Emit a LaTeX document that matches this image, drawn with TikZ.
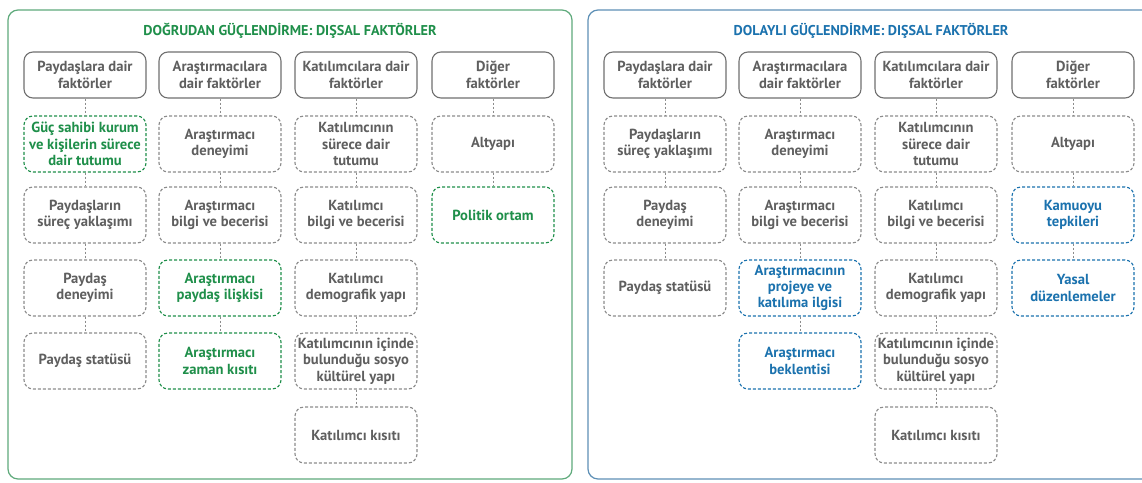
\documentclass[tikz,border=0pt]{standalone}
\usepackage{fontspec}
\setmainfont{PT Sans}
\definecolor{txtc}{HTML}{5F5F5F}
\definecolor{hdrc}{HTML}{707070}
\definecolor{dashc}{HTML}{8C8C8C}
\definecolor{greenc}{HTML}{1F8F4A}
\definecolor{greenb}{HTML}{5FAA7C}
\definecolor{bluec}{HTML}{1B72AE}
\definecolor{blueb}{HTML}{5E90B6}
\tikzset{
  panel/.style={line width=1.2pt, rounded corners=10pt, fill=white},
  ttl/.style={font=\bfseries\fontsize{14.2}{16}\selectfont, inner sep=0pt},
  hdr/.style={draw=hdrc, line width=1.1pt, rounded corners=9pt, minimum width=122pt, minimum height=46pt, align=center, text=txtc, inner sep=1pt, font=\bfseries\fontsize{14.6}{16.5}\selectfont},
  fac/.style={draw=dashc, line width=1.1pt, dash pattern=on 3pt off 2pt, rounded corners=9pt, minimum width=122pt, minimum height=56pt, align=center, text=txtc, inner sep=1pt, font=\bfseries\fontsize{14.6}{16.3}\selectfont},
  gfac/.style={fac, draw=greenc, text=greenc},
  bfac/.style={fac, draw=bluec, text=bluec},
  link/.style={draw=dashc, line width=1pt, dash pattern=on 2pt off 2pt}
}
\begin{document}
\begin{tikzpicture}[x=1pt,y=-1pt]
\useasboundingbox (0,0) rectangle (1142,482);
\fill[white] (0,0) rectangle (1142,482);
% panels
\draw[panel, draw=greenb] (8,10) rectangle (572,479);
\begin{scope}
\clip (0,0) rectangle (1142,482);
\draw[panel, draw=blueb] (588,10) rectangle (1154,479);
\end{scope}
\node[ttl, text=greenc] (t1) at (290,31) {DOĞRUDAN GÜÇLENDİRME: DIŞSAL FAKTÖRLER};
\node[ttl, text=bluec] (t2) at (871,31) {DOLAYLI GÜÇLENDİRME: DIŞSAL FAKTÖRLER};

% ===== Left panel =====
\node[hdr] (a1) at (85,75) {Paydaşlara dair\\faktörler};
\node[hdr] (a2) at (220,75) {Araştırmacılara\\dair faktörler};
\node[hdr] (a3) at (356,75) {Katılımcılara dair\\faktörler};
\node[hdr] (a4) at (493,75) {Diğer\\faktörler};

\node[gfac] (a11) at (85,144) {Güç sahibi kurum\\ve kişilerin sürece\\dair tutumu};
\node[fac] (a12) at (85,215) {Paydaşların\\süreç yaklaşımı};
\node[fac] (a13) at (85,288) {Paydaş\\deneyimi};
\node[fac] (a14) at (85,361) {Paydaş statüsü};

\node[fac] (a21) at (220,144) {Araştırmacı\\deneyimi};
\node[fac] (a22) at (220,215) {Araştırmacı\\bilgi ve becerisi};
\node[gfac] (a23) at (220,288) {Araştırmacı\\paydaş ilişkisi};
\node[gfac] (a24) at (220,361) {Araştırmacı\\zaman kısıtı};

\node[fac] (a31) at (356,144) {Katılımcının\\sürece dair\\tutumu};
\node[fac] (a32) at (356,215) {Katılımcı\\bilgi ve becerisi};
\node[fac] (a33) at (356,288) {Katılımcı\\demografik yapı};
\node[fac] (a34) at (356,361) {Katılımcının içinde\\bulunduğu sosyo\\kültürel yapı};
\node[fac] (a35) at (356,435) {Katılımcı kısıtı};

\node[fac] (a41) at (493,144) {Altyapı};
\node[gfac] (a42) at (493,215) {Politik ortam};

\draw[link] (a1) -- (a11);
\draw[link] (a11) -- (a12);
\draw[link] (a12) -- (a13);
\draw[link] (a13) -- (a14);
\draw[link] (a2) -- (a21);
\draw[link] (a21) -- (a22);
\draw[link] (a22) -- (a23);
\draw[link] (a23) -- (a24);
\draw[link] (a3) -- (a31);
\draw[link] (a31) -- (a32);
\draw[link] (a32) -- (a33);
\draw[link] (a33) -- (a34);
\draw[link] (a34) -- (a35);
\draw[link] (a4) -- (a41);
\draw[link] (a41) -- (a42);

% ===== Right panel =====
\node[hdr] (b1) at (665,75) {Paydaşlara dair\\faktörler};
\node[hdr] (b2) at (800,75) {Araştırmacılara\\dair faktörler};
\node[hdr] (b3) at (936,75) {Katılımcılara dair\\faktörler};
\node[hdr] (b4) at (1073,75) {Diğer\\faktörler};

\node[fac] (b11) at (665,144) {Paydaşların\\süreç yaklaşımı};
\node[fac] (b12) at (665,215) {Paydaş\\deneyimi};
\node[fac] (b13) at (665,288) {Paydaş statüsü};

\node[fac] (b21) at (800,144) {Araştırmacı\\deneyimi};
\node[fac] (b22) at (800,215) {Araştırmacı\\bilgi ve becerisi};
\node[bfac] (b23) at (800,288) {Araştırmacının\\projeye ve\\katılıma ilgisi};
\node[bfac] (b24) at (800,361) {Araştırmacı\\beklentisi};

\node[fac] (b31) at (936,144) {Katılımcının\\sürece dair\\tutumu};
\node[fac] (b32) at (936,215) {Katılımcı\\bilgi ve becerisi};
\node[fac] (b33) at (936,288) {Katılımcı\\demografik yapı};
\node[fac] (b34) at (936,361) {Katılımcının içinde\\bulunduğu sosyo\\kültürel yapı};
\node[fac] (b35) at (936,435) {Katılımcı kısıtı};

\node[fac] (b41) at (1073,144) {Altyapı};
\node[bfac] (b42) at (1073,215) {Kamuoyu\\tepkileri};
\node[bfac] (b43) at (1073,288) {Yasal\\düzenlemeler};

\draw[link] (b1) -- (b11);
\draw[link] (b11) -- (b12);
\draw[link] (b12) -- (b13);
\draw[link] (b2) -- (b21);
\draw[link] (b21) -- (b22);
\draw[link] (b22) -- (b23);
\draw[link] (b23) -- (b24);
\draw[link] (b3) -- (b31);
\draw[link] (b31) -- (b32);
\draw[link] (b32) -- (b33);
\draw[link] (b33) -- (b34);
\draw[link] (b34) -- (b35);
\draw[link] (b4) -- (b41);
\draw[link] (b41) -- (b42);
\draw[link] (b42) -- (b43);
\end{tikzpicture}
\end{document}
